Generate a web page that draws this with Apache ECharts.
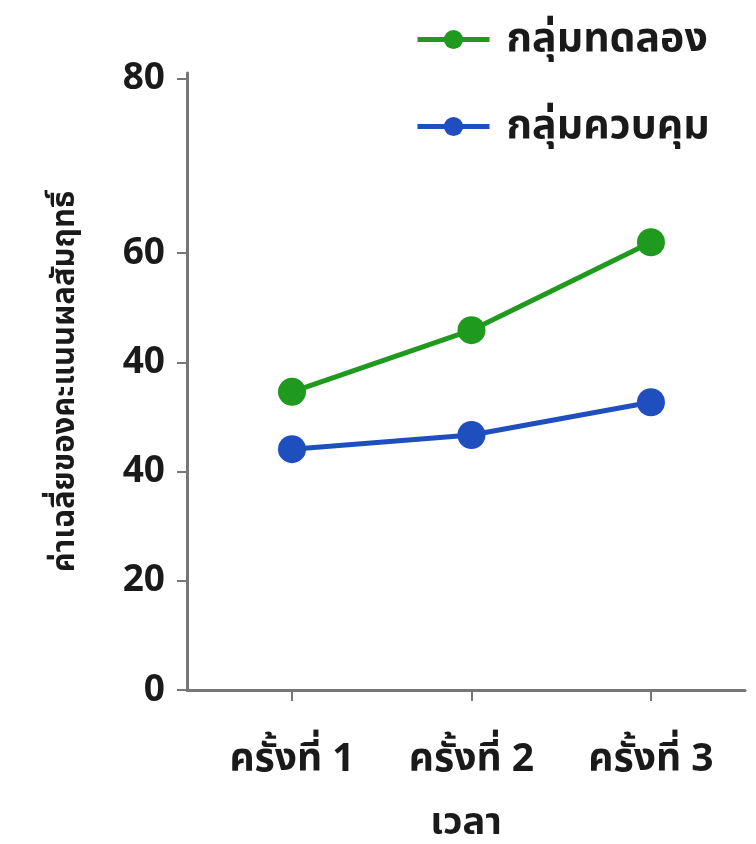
<!DOCTYPE html>
<html>
<head>
<meta charset="utf-8">
<script src="https://cdn.jsdelivr.net/npm/echarts@6/dist/echarts.min.js"></script>
<style>html,body{margin:0;padding:0;background:#fff;}#chart{width:756px;height:844px;}</style>
</head>
<body>
<div id="chart"></div>
<script>
// Data
const categories = ['ครั้งที่ 1', 'ครั้งที่ 2', 'ครั้งที่ 3'];
const seriesNames = ['กลุ่มทดลอง', 'กลุ่มควบคุม'];
const experimentValues = [54.6, 65.9, 82.0];
const controlValues = [44.1, 46.7, 52.7];
// Tick positions (axis units) and their printed labels as they appear in the reference
const yTickValues = [0, 20, 40, 60, 80, 112];
const yTickLabels = ['0', '20', '40', '40', '60', '80'];
const xTitle = 'เวลา';
const yTitle = 'ค่าเฉลี่ยของคะแนนผลสัมฤทธิ์';

const FONT = "'Noto Sans', 'Noto Sans Thai', 'Noto Sans Thai Looped', sans-serif";
const green = '#1f9a1f';
const blue = '#1f4fbf';
const ink = '#1a1a1a';

const chart = echarts.init(document.getElementById('chart'), null, {renderer: 'canvas'});
const toPairs = arr => arr.map((v, i) => [i, v]);

chart.setOption({
  backgroundColor: '#ffffff',
  animation: false,
  textStyle: {fontFamily: FONT},
  grid: {left: 187, right: 11, top: 73, bottom: 154, containLabel: false, outerBoundsMode: 'none'},
  legend: {
    orient: 'vertical',
    left: 410,
    top: 14,
    itemWidth: 72,
    itemHeight: 24,
    itemGap: 46,
    lineStyle: {width: 5},
    textStyle: {fontSize: 41, fontWeight: 'bold', color: ink, fontFamily: FONT, padding: [0, 0, 0, 12]},
    data: seriesNames
  },
  xAxis: {
    type: 'value',
    min: -0.585,
    max: 2.524,
    name: xTitle,
    nameLocation: 'middle',
    nameGap: 114,
    nameTextStyle: {fontSize: 38, fontWeight: 'bold', color: ink, fontFamily: FONT},
    splitLine: {show: false},
    axisLine: {show: true, onZero: false, lineStyle: {color: '#777', width: 3}},
    axisTick: {show: true, customValues: [0, 1, 2], length: 11, lineStyle: {color: '#777', width: 2}},
    axisLabel: {
      customValues: [0, 1, 2],
      margin: 50,
      fontSize: 39,
      fontWeight: 'bold',
      color: ink,
      fontFamily: FONT,
      formatter: v => categories[Math.round(v)]
    }
  },
  yAxis: {
    type: 'value',
    min: 0,
    max: 113,
    name: yTitle,
    nameLocation: 'middle',
    nameGap: 106,
    nameRotate: 90,
    nameTextStyle: {fontSize: 31, fontWeight: 'bold', color: ink, fontFamily: FONT},
    splitLine: {show: false},
    axisLine: {show: true, onZero: false, lineStyle: {color: '#777', width: 3}},
    axisTick: {show: true, customValues: yTickValues, length: 10, lineStyle: {color: '#777', width: 2}},
    axisLabel: {
      customValues: yTickValues,
      margin: 22,
      fontSize: 37,
      fontWeight: 'bold',
      color: ink,
      fontFamily: FONT,
      formatter: v => yTickLabels[yTickValues.indexOf(v)]
    }
  },
  series: [
    {
      name: seriesNames[0],
      type: 'line',
      data: toPairs(experimentValues),
      symbol: 'circle',
      symbolSize: 28,
      lineStyle: {color: green, width: 5},
      itemStyle: {color: green}
    },
    {
      name: seriesNames[1],
      type: 'line',
      data: toPairs(controlValues),
      symbol: 'circle',
      symbolSize: 28,
      lineStyle: {color: blue, width: 5},
      itemStyle: {color: blue}
    }
  ]
});
</script>
</body>
</html>
